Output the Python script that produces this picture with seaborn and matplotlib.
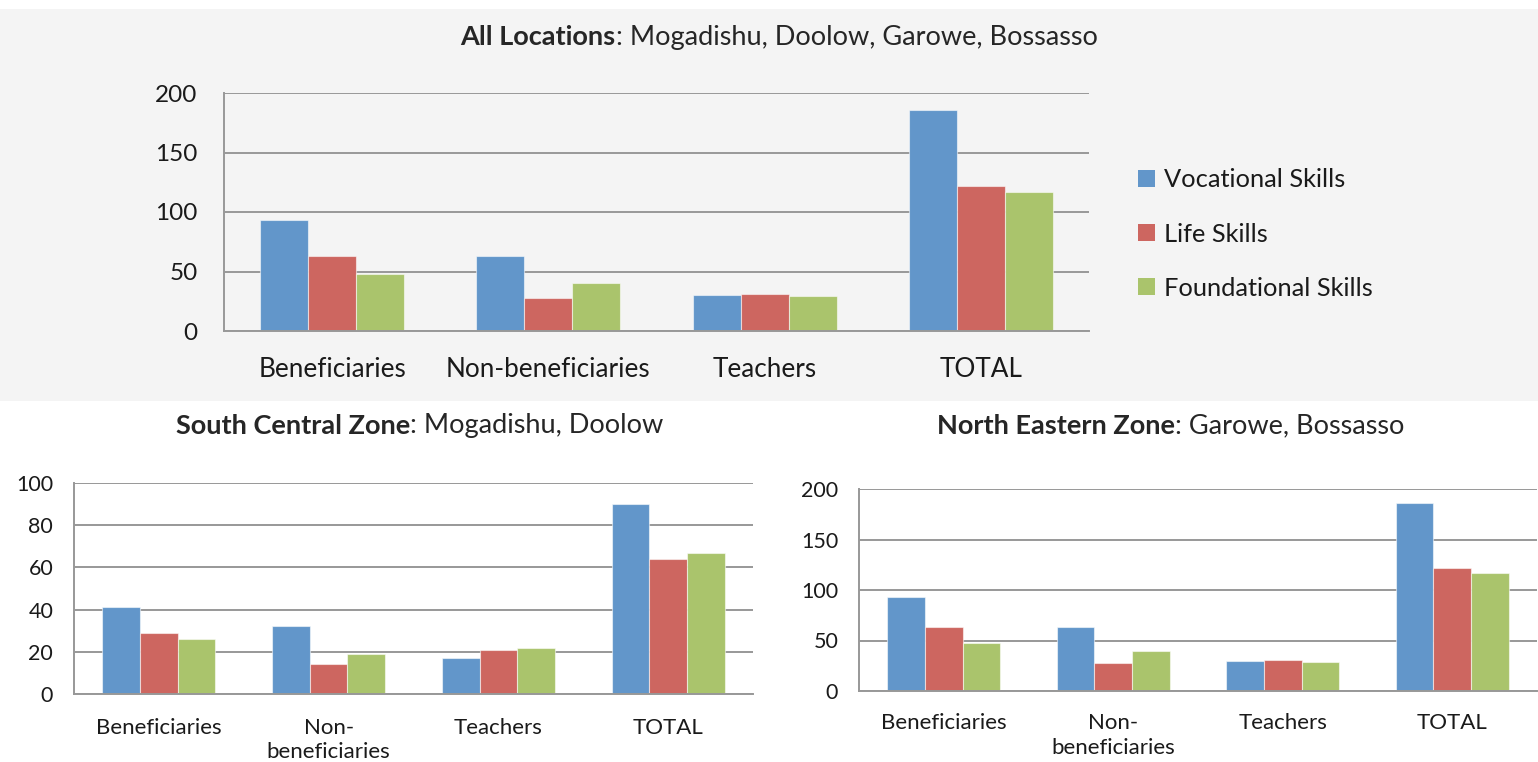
import matplotlib
matplotlib.use("Agg")
import matplotlib.pyplot as plt
from matplotlib.patches import Rectangle, Patch
import pandas as pd
import seaborn as sns

# ---- data -------------------------------------------------------------
groups = ["Beneficiaries", "Non-beneficiaries", "Teachers", "TOTAL"]
groups_wrapped = ["Beneficiaries", "Non-\nbeneficiaries", "Teachers", "TOTAL"]
skills = ["Vocational Skills", "Life Skills", "Foundational Skills"]

all_vocational = [93, 63, 30, 186]
all_life = [63, 28, 31, 122]
all_foundational = [48, 40, 29, 117]

sc_vocational = [41, 32, 17, 90]
sc_life = [29, 14, 21, 64]
sc_foundational = [26, 19, 22, 67]

ne_vocational = [93, 63, 30, 186]
ne_life = [63, 28, 31, 122]
ne_foundational = [48, 40, 29, 117]

all_ticks = [0, 50, 100, 150, 200]
sc_ticks = [0, 20, 40, 60, 80, 100]
ne_ticks = [0, 50, 100, 150, 200]

palette = ["#6296CA", "#CD6660", "#AAC46C"]
GRID = "#989898"
TEXT = "#1a1a1a"
FONT = "Lato"

W, H = 1538, 762


def long_frame(voc, life, found):
    rows = []
    for series, vals in zip(skills, [voc, life, found]):
        for g, v in zip(groups, vals):
            rows.append({"group": g, "skill": series, "value": v})
    return pd.DataFrame(rows)


sns.set_theme(style="white")
plt.rcParams["font.family"] = [FONT, "DejaVu Sans"]

fig = plt.figure(figsize=(W / 100, H / 100), dpi=100)
fig.patch.set_facecolor("white")
# light band behind the overall chart
band = Rectangle((0, 1 - 401 / H), 1, (401 - 9) / H,
                 transform=fig.transFigure, facecolor="#f4f4f4",
                 edgecolor="none", zorder=-10)
fig.patches.append(band)


def px_axes(left, top, right, bottom):
    return fig.add_axes([left / W, 1 - bottom / H, (right - left) / W, (bottom - top) / H])


def draw_panel(ax, df, ticks, labels, tick_size, xlab_size, ylab_pad, xlab_pad):
    sns.barplot(data=df, x="group", y="value", hue="skill", hue_order=skills,
                palette=palette, width=0.667, saturation=1, ax=ax,
                edgecolor=(1, 1, 1, 0.55), linewidth=0.8, legend=False, zorder=3)
    ax.set_facecolor("none")
    ax.set_xlim(-0.5, 3.5)
    ax.set_ylim(ticks[0], ticks[-1])
    ax.set_yticks(ticks)
    ax.set_yticklabels([str(t) for t in ticks], fontsize=tick_size, color=TEXT)
    ax.set_xticks(range(len(groups)))
    ax.set_xticklabels(labels, fontsize=xlab_size, color=TEXT, linespacing=1.3)
    ax.set_xticks([-0.5, 0.5, 1.5, 2.5, 3.5], minor=True)
    ax.tick_params(axis="x", which="major", length=0, pad=xlab_pad)
    ax.tick_params(axis="x", which="minor", length=6, width=1.4, color=GRID, direction="out")
    ax.tick_params(axis="y", which="major", length=5, width=1.4, color=GRID,
                   direction="out", pad=ylab_pad)
    ax.set_xlabel("")
    ax.set_ylabel("")
    ax.yaxis.grid(True, color=GRID, linewidth=1.4, zorder=0)
    ax.set_axisbelow(True)
    for side in ["top", "right"]:
        ax.spines[side].set_visible(False)
    for side in ["left", "bottom"]:
        ax.spines[side].set_color(GRID)
        ax.spines[side].set_linewidth(1.4)
        ax.spines[side].set_zorder(4)


ax_all = px_axes(224, 93, 1089, 331)
draw_panel(ax_all, long_frame(all_vocational, all_life, all_foundational),
           all_ticks, groups, 17.5, 18.8, 14, 19)

ax_sc = px_axes(74, 483, 753, 694)
draw_panel(ax_sc, long_frame(sc_vocational, sc_life, sc_foundational),
           sc_ticks, groups_wrapped, 15.5, 16, 10, 17)

ax_ne = px_axes(859, 489, 1537, 691)
draw_panel(ax_ne, long_frame(ne_vocational, ne_life, ne_foundational),
           ne_ticks, groups_wrapped, 15.5, 16, 10, 16)

# legend for the overall chart
handles = [Patch(facecolor=c, edgecolor="none") for c in palette]
fig.legend(handles, skills, loc="center left",
           bbox_to_anchor=(1133 / W, 1 - 234 / H), frameon=False,
           fontsize=18.3, handlelength=0.65, handleheight=0.65,
           handletextpad=0.35, labelspacing=1.22, labelcolor=TEXT,
           borderaxespad=0, borderpad=0.2)

# titles: bold lead followed by regular text
renderer = fig.canvas.get_renderer()


def mixed_title(xc, yc, bold, regular, size):
    t1 = fig.text(0, 1 - yc / H, bold, fontsize=size, fontweight="bold",
                  color="#262626", va="center", ha="left")
    t2 = fig.text(0, 1 - yc / H, regular, fontsize=size, color="#262626",
                  va="center", ha="left")
    w1 = t1.get_window_extent(renderer).width
    w2 = t2.get_window_extent(renderer).width
    x0 = xc - (w1 + w2) / 2
    t1.set_x(x0 / W)
    t2.set_x((x0 + w1) / W)


mixed_title(779, 37, "All Locations", ": Mogadishu, Doolow, Garowe, Bossasso", 19.5)
mixed_title(420, 426, "South Central Zone", ": Mogadishu, Doolow", 19.5)
mixed_title(1171, 426, "North Eastern Zone", ": Garowe, Bossasso", 19.5)

fig.savefig("out.png", dpi=100, facecolor=fig.get_facecolor())
